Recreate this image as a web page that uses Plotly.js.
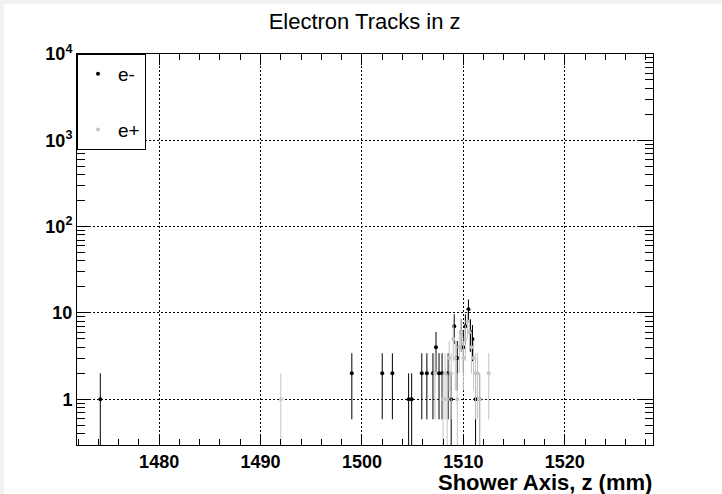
<!DOCTYPE html>
<html>
<head>
<meta charset="utf-8">
<script src="https://cdn.plot.ly/plotly-3.0.1.min.js"></script>
<style>html,body{margin:0;padding:0;background:#fff;}#chart{width:722px;height:494px;}</style>
</head>
<body>
<div id="chart"></div>
<script>
// e- (electrons): bin centre z (mm) and counts
const eMinusZ = [1474.2, 1499.0, 1502.0, 1503.0, 1504.6, 1504.9, 1505.9, 1506.4, 1507.0, 1507.3, 1507.6, 1507.9, 1508.5, 1508.8, 1509.1, 1509.4, 1509.8, 1510.0, 1510.2, 1510.5, 1510.7, 1510.9, 1511.2, 1511.6];
const eMinusN = [1, 2, 2, 2, 1, 1, 2, 2, 2, 4, 2, 2, 2, 1, 7, 3, 6, 4, 7, 11, 6, 5, 1, 1];
// e+ (positrons)
const ePlusZ = [1492.0, 1507.2, 1508.0, 1508.2, 1508.4, 1508.6, 1508.8, 1509.0, 1509.2, 1509.4, 1509.6, 1509.8, 1510.0, 1510.2, 1510.4, 1510.6, 1510.8, 1511.0, 1511.2, 1511.4, 1511.6, 1512.5];
const ePlusN = [1, 2, 1, 2, 1, 3, 2, 5, 3, 1, 4, 6, 3, 5, 8, 6, 4, 3, 2, 2, 1, 2];

const seriesNames = ['e-', 'e+'];
const xTickVals = [1480, 1490, 1500, 1510, 1520];
const yTickVals = [1, 10, 100, 1000, 10000];
const yTickText = ['1', '10', '10<sup>2</sup>', '10<sup>3</sup>', '10<sup>4</sup>'];

function errUp(n) { return n.map(v => Math.sqrt(v)); }
function errDown(n) { return n.map(v => Math.min(Math.sqrt(v), v - 0.001)); }

function trace(z, n, name, color) {
  return {
    type: 'scatter', mode: 'markers', name: name, x: z, y: n,
    marker: {color: color, size: 4},
    error_y: {type: 'data', symmetric: false, array: errUp(n), arrayminus: errDown(n),
              color: color, thickness: 1, width: 0},
    legendgroup: name, cliponaxis: true
  };
}

const data = [
  trace(eMinusZ, eMinusN, seriesNames[0], '#000000'),
  trace(ePlusZ, ePlusN, seriesNames[1], '#c4c4c4')
];

const font = {family: 'Liberation Sans, Arial, sans-serif', color: '#000'};
const PW = 576, PH = 391;

const layout = {
  width: 722, height: 494,
  margin: {l: 77, r: 69, t: 54, b: 49},
  paper_bgcolor: '#fff', plot_bgcolor: '#fff',
  font: font,
  title: {text: 'Electron Tracks in z', font: {family: font.family, size: 22, color: '#000'},
          x: 0.505, xref: 'container', xanchor: 'center', y: 0.957, yref: 'container', yanchor: 'middle'},
  showlegend: true,
  legend: {x: 0, y: 1, xanchor: 'left', yanchor: 'top', bgcolor: '#fff', bordercolor: '#000', borderwidth: 1,
           font: {family: font.family, size: 19, color: '#000'}, itemwidth: 30, tracegroupgap: 28,
           traceorder: 'grouped'},
  xaxis: {
    range: [1471.9, 1528.7], tickmode: 'array', tickvals: xTickVals,
    ticks: 'inside', ticklen: 11, tickwidth: 1, tickcolor: '#000',
    showline: true, linecolor: '#000', linewidth: 1, mirror: 'ticks',
    showgrid: true, gridcolor: '#000', gridwidth: 1, griddash: '2px,2px',
    zeroline: false,
    minor: {dtick: 2, ticklen: 6, tickcolor: '#000', showgrid: false, ticks: 'inside'},
    tickfont: {family: font.family, size: 18, color: '#000', weight: 'bold'}
  },
  yaxis: {
    type: 'log', range: [-0.53, 4], tickmode: 'array', tickvals: yTickVals, ticktext: yTickText,
    ticks: 'inside', ticklen: 14, tickwidth: 1, tickcolor: '#000',
    showline: true, linecolor: '#000', linewidth: 1, mirror: 'ticks',
    showgrid: true, gridcolor: '#000', gridwidth: 1, griddash: '2px,2px',
    zeroline: false,
    minor: {dtick: 'D1', ticklen: 8, tickcolor: '#000', showgrid: false, ticks: 'inside'},
    tickfont: {family: font.family, size: 18, color: '#000', weight: 'bold'}
  },
  shapes: [
    {type: 'rect', xref: 'paper', yref: 'paper', layer: 'below', line: {width: 0}, fillcolor: '#f2f2f2',
     x0: -77 / PW, x1: -73 / PW, y0: -49 / PH, y1: 445 / PH},
    {type: 'rect', xref: 'paper', yref: 'paper', layer: 'below', line: {width: 0}, fillcolor: '#f2f2f2',
     x0: -77 / PW, x1: 645 / PW, y0: 441 / PH, y1: 445 / PH}
  ],
  annotations: [{
    text: 'Shower Axis, z (mm)', xref: 'paper', yref: 'paper', x: 1.002, y: -38 / PH,
    xanchor: 'right', yanchor: 'middle', showarrow: false,
    font: {family: font.family, size: 22, color: '#000', weight: 'bold'}
  }]
};

Plotly.newPlot('chart', data, layout, {displayModeBar: false, staticPlot: true});
</script>
</body>
</html>
